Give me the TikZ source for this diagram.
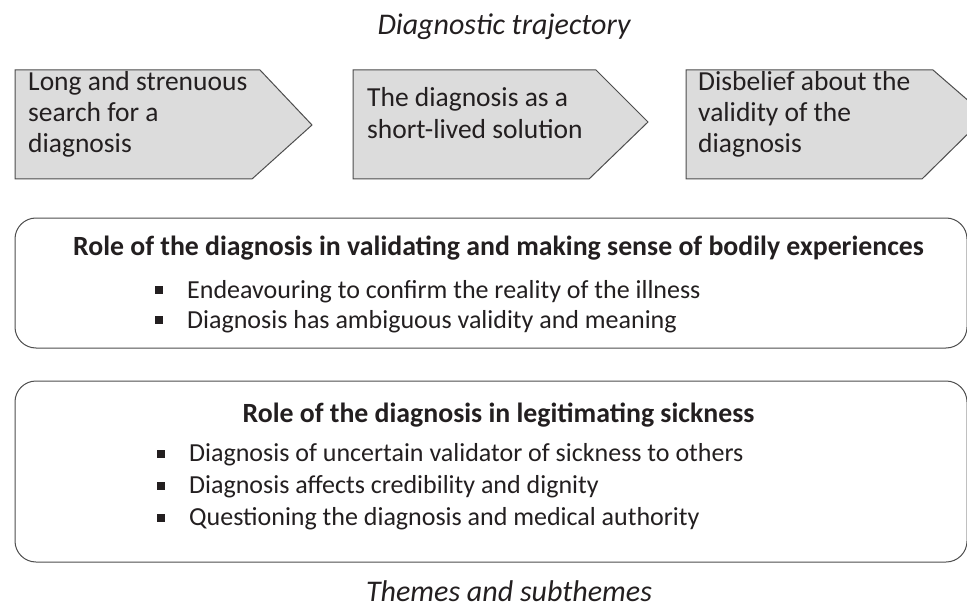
\documentclass[tikz,border=0pt]{standalone}
\usepackage{fontspec}
\setmainfont{Carlito}
\definecolor{arrowfill}{HTML}{DCDCDC}
\definecolor{ink}{HTML}{231F20}
\definecolor{edge}{HTML}{4D4D4D}
\begin{document}
\begin{tikzpicture}[x=1pt,y=-1pt,
  stage/.style={draw=edge,line width=1pt,fill=arrowfill,line join=miter},
  theme/.style={draw=edge,line width=1pt,rounded corners=21pt},
  stagetext/.style={anchor=base west,font=\fontsize{27.5}{31}\selectfont,text=ink,inner sep=0pt},
  caption/.style={anchor=base,font=\fontsize{30}{34}\selectfont\itshape,text=ink,inner sep=0pt},
  headtext/.style={anchor=base,font=\fontsize{27.8}{32}\selectfont\bfseries,text=ink,inner sep=0pt},
  bullettext/.style={anchor=base west,font=\fontsize{26}{31}\selectfont,text=ink,inner sep=0pt},
  bulletmark/.style={fill=ink,minimum size=8pt,inner sep=0pt}]
\useasboundingbox (0,0) rectangle (967,607);
\fill[white] (0,0) rectangle (967,607);
\begin{scope}
\clip (0,0) rectangle (967,607);
\node[caption] (title) at (504,35) {Diagnostic trajectory};
% stages
\draw[stage] (15,70) -- (260,70) -- (312,125) -- (252,179) -- (15,179) -- cycle;
\draw[stage] (353,70) -- (596,70) -- (648,122) -- (589,179) -- (353,179) -- cycle;
\draw[stage] (686,70) -- (933,70) -- (986,116) -- (922,179) -- (686,179) -- cycle;
\node[stagetext] (s1a) at (28,91) {Long and strenuous};
\node[stagetext] (s1b) at (28,122) {search for a};
\node[stagetext] (s1c) at (28,153) {diagnosis};
\node[stagetext] (s2a) at (367,107) {The diagnosis as a};
\node[stagetext] (s2b) at (367,139) {short-lived solution};
\node[stagetext] (s3a) at (698,91) {Disbelief about the};
\node[stagetext] (s3b) at (698,122) {validity of the};
\node[stagetext] (s3c) at (698,153) {diagnosis};
% themes
\draw[theme] (15,218) rectangle (967,348);
\draw[theme] (15,381) rectangle (967,562);
\node[headtext] (h1) at (498.5,255) {Role of the diagnosis in validating and making sense of bodily experiences};
\node[bulletmark] (b1) at (158.5,290) {};
\node[bullettext] (t1) at (187,298) {Endeavouring to confirm the reality of the illness};
\node[bulletmark] (b2) at (158.5,320) {};
\node[bullettext] (t2) at (187,328) {Diagnosis has ambiguous validity and meaning};
\node[headtext] (h2) at (498.5,422) {Role of the diagnosis in legitimating sickness};
\node[bulletmark] (b3) at (161,454) {};
\node[bullettext] (t3) at (189,461) {Diagnosis of uncertain validator of sickness to others};
\node[bulletmark] (b4) at (161,486) {};
\node[bullettext] (t4) at (189,493) {Diagnosis affects credibility and dignity};
\node[bulletmark] (b5) at (161,518) {};
\node[bullettext] (t5) at (189,525) {Questioning the diagnosis and medical authority};
\node[caption] (foot) at (509,601) {Themes and subthemes};
\end{scope}
\end{tikzpicture}
\end{document}
